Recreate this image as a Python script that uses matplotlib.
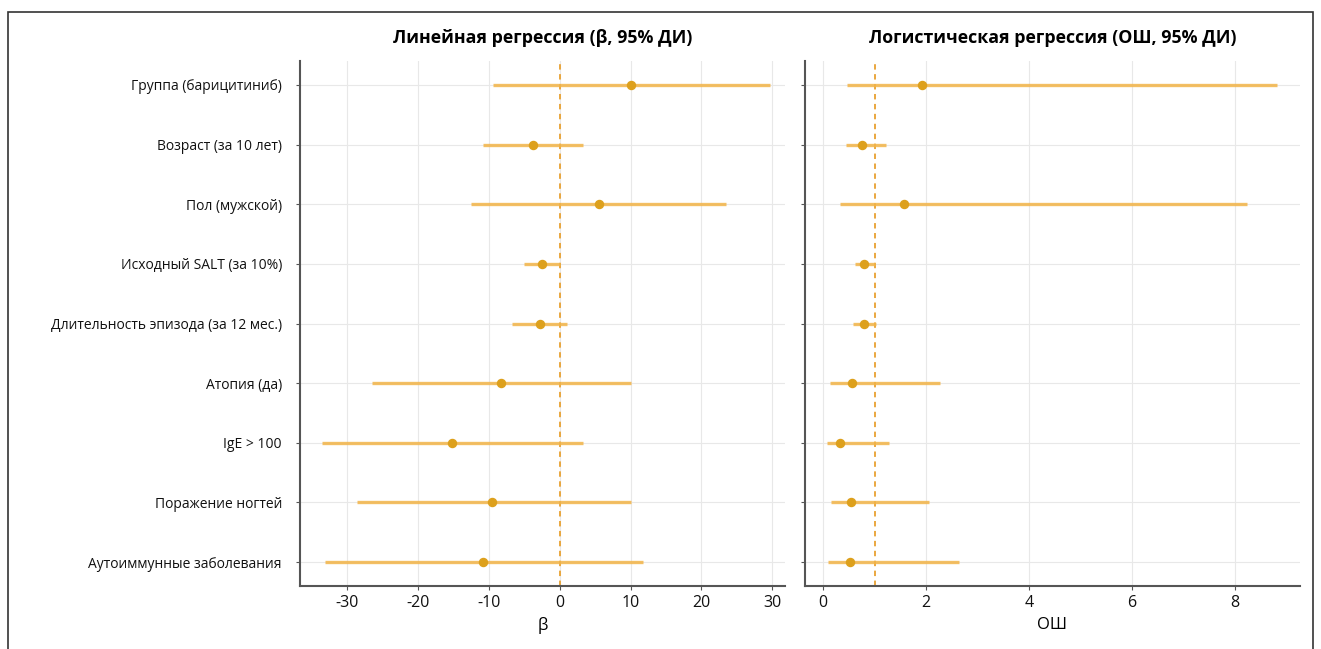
import matplotlib
matplotlib.use("Agg")
import matplotlib.pyplot as plt
from matplotlib.patches import Rectangle

labels = ["Группа (барицитиниб)", "Возраст (за 10 лет)", "Пол (мужской)",
          "Исходный SALT (за 10%)", "Длительность эпизода (за 12 мес.)",
          "Атопия (да)", "IgE > 100", "Поражение ногтей", "Аутоиммунные заболевания"]

beta = [10.1, -3.8, 5.6, -2.5, -2.8, -8.3, -15.2, -9.6, -10.8]
beta_lo = [-9.4, -10.8, -12.5, -5.1, -6.7, -26.6, -33.6, -28.7, -33.2]
beta_hi = [29.7, 3.3, 23.4, 0.0, 1.0, 10.0, 3.3, 10.0, 11.8]

odds = [1.92, 0.76, 1.57, 0.80, 0.80, 0.56, 0.33, 0.54, 0.52]
odds_lo = [0.47, 0.45, 0.33, 0.62, 0.58, 0.14, 0.08, 0.16, 0.10]
odds_hi = [8.82, 1.22, 8.23, 1.00, 1.03, 2.27, 1.28, 2.06, 2.64]

beta_ticks = [-30, -20, -10, 0, 10, 20, 30]
odds_ticks = [0, 2, 4, 6, 8]

plt.rcParams['font.family'] = ['Open Sans', 'DejaVu Sans']

W, H = 1321, 649
fig = plt.figure(figsize=(W / 100, H / 100), dpi=100)

def box(x0, x1, y0, y1):
    return [x0 / W, 1 - y1 / H, (x1 - x0) / W, (y1 - y0) / H]

ax1 = fig.add_axes(box(300, 785, 61, 586))
ax2 = fig.add_axes(box(805, 1300, 61, 586))

line_c = '#F2B448'
dot_c = '#DDA01C'
ref_c = '#E8A030'
ys = list(range(len(labels)))

def draw(ax, est, lo, hi, ref, xlim, ticks, title, xlabel):
    ax.grid(True, color='#e8e8e8', linewidth=0.8, zorder=0)
    ax.set_axisbelow(True)
    for y, e, l, h in zip(ys, est, lo, hi):
        ax.plot([l, h], [y, y], color=line_c, linewidth=2.4, alpha=0.85,
                solid_capstyle='butt', zorder=2)
        ax.plot([e], [y], 'o', color=dot_c, markersize=5.8, zorder=3)
    ax.axvline(ref, color=ref_c, linestyle=(0, (3, 2.5)), linewidth=1.3, zorder=1)
    ax.set_xlim(*xlim)
    ax.set_ylim(8.4, -0.4)
    ax.set_xticks(ticks)
    ax.set_xticklabels([str(t) for t in ticks], fontsize=11.5)
    ax.set_yticks(ys)
    for s in ['top', 'right']:
        ax.spines[s].set_visible(False)
    for s in ['left', 'bottom']:
        ax.spines[s].set_color('#555555')
        ax.spines[s].set_linewidth(1.5)
    ax.tick_params(axis='both', colors='#555555', labelcolor='#111111',
                   length=3, width=0.8)
    ax.tick_params(axis='y', pad=10)
    ax.set_title(title, fontsize=12.8, fontweight='bold', pad=13)
    ax.set_xlabel(xlabel, fontsize=12, labelpad=4)

draw(ax1, beta, beta_lo, beta_hi, 0, (-36.7, 31.8), beta_ticks,
     "Линейная регрессия (β, 95% ДИ)", "β")
ax1.set_yticklabels(labels, fontsize=10)

draw(ax2, odds, odds_lo, odds_hi, 1, (-0.35, 9.26), odds_ticks,
     "Логистическая регрессия (ОШ, 95% ДИ)", "ОШ")
ax2.set_yticklabels([])

fig.add_artist(Rectangle((8 / W, -0.05), (1313 - 8) / W, 1.05 - 12 / H,
                         transform=fig.transFigure, fill=False,
                         edgecolor='#333333', linewidth=1.2))

fig.savefig("out.png", dpi=100)
